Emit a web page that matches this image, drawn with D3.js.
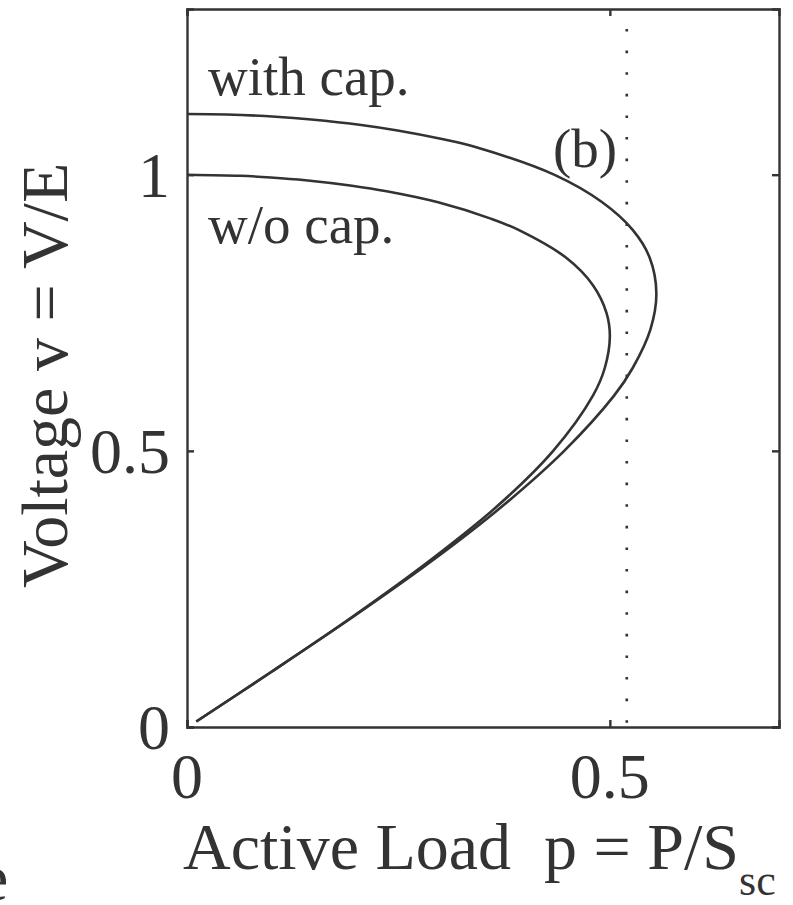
<!DOCTYPE html>
<html lang="en">
<head>
    <title>PV curves</title>
    <script src="https://d3js.org/d3.v7.min.js"></script>
    <style>
        body { margin: 0; background: #fff; }
        svg text { font-family: 'Liberation Serif', 'DejaVu Serif', serif; fill: #333; white-space: pre; }
    </style>
</head>
<body>

<script>
    // curve without capacitor: voltage v and active load p
    const vNoCap = [1.0, 0.998, 0.995, 0.99, 0.98, 0.97, 0.95, 0.92, 0.9, 0.85, 0.8, 0.75, 0.707, 0.65, 0.6, 0.5, 0.4, 0.3, 0.2, 0.1, 0.01];
    const pNoCap = [0.0, 0.063, 0.099, 0.140, 0.195, 0.236, 0.297, 0.360, 0.392, 0.448, 0.480, 0.496, 0.500, 0.494, 0.480, 0.433, 0.367, 0.286, 0.196, 0.100, 0.011];

    // curve with capacitor
    const vCap = [1.11, 1.109, 1.105, 1.10, 1.09, 1.08, 1.065, 1.05, 1.0, 0.95, 0.9, 0.85, 0.785, 0.72, 0.65, 0.6, 0.5, 0.4, 0.3, 0.2, 0.1, 0.01];
    const pCap = [0.0, 0.047, 0.105, 0.147, 0.206, 0.249, 0.300, 0.341, 0.434, 0.491, 0.527, 0.547, 0.555, 0.548, 0.527, 0.505, 0.446, 0.373, 0.289, 0.197, 0.100, 0.011];

    const xTicks = [0, 0.5];
    const yTicks = [0, 0.5, 1];
    const pLimit = 0.52;

    const width = 793, height = 905;
    const margin = {top: 9, right: 14, bottom: 178, left: 187};
    const serif = "'Liberation Serif', 'DejaVu Serif', serif";

    const svg = d3.select("body").append("svg")
            .attr("width", width)
            .attr("height", height);

    const x = d3.scaleLinear().domain([0, 0.7]).range([margin.left, width - margin.right]);
    const y = d3.scaleLinear().domain([0, 1.3]).range([height - margin.bottom, margin.top]);

    const ink = "#333";

    // dotted limit line
    svg.append("line")
            .attr("x1", x(pLimit)).attr("x2", x(pLimit))
            .attr("y1", y(1.3) + 20).attr("y2", y(0))
            .attr("stroke", ink)
            .attr("stroke-width", 2.6)
            .attr("stroke-dasharray", "2.6,19");

    const line = d3.line()
            .x(d => x(d[0]))
            .y(d => y(d[1]))
            .curve(d3.curveCatmullRom);

    svg.append("path")
            .datum(d3.zip(pNoCap, vNoCap))
            .attr("d", line)
            .attr("fill", "none")
            .attr("stroke", ink)
            .attr("stroke-width", 2.6);

    svg.append("path")
            .datum(d3.zip(pCap, vCap))
            .attr("d", line)
            .attr("fill", "none")
            .attr("stroke", ink)
            .attr("stroke-width", 2.6);

    // axes with inward ticks, mirrored on top and right
    const tl = 7;
    const bottomAxis = svg.append("g")
            .attr("transform", `translate(0,${y(0)})`)
            .call(d3.axisBottom(x).tickValues(xTicks).tickSize(-tl).tickFormat(""));
    const topAxis = svg.append("g")
            .attr("transform", `translate(0,${y(1.3)})`)
            .call(d3.axisTop(x).tickValues(xTicks).tickSize(-tl).tickFormat(""));
    const leftAxis = svg.append("g")
            .attr("transform", `translate(${x(0)},0)`)
            .call(d3.axisLeft(y).tickValues(yTicks).tickSize(-tl).tickFormat(""));
    const rightAxis = svg.append("g")
            .attr("transform", `translate(${x(0.7)},0)`)
            .call(d3.axisRight(y).tickValues(yTicks).tickSize(-tl).tickFormat(""));

    [bottomAxis, topAxis, leftAxis, rightAxis].forEach(g => {
        g.selectAll(".domain").attr("stroke", ink).attr("stroke-width", 2.4);
        g.selectAll(".tick line").attr("stroke", ink).attr("stroke-width", 2.4);
        g.attr("font-family", null);
    });

    // tick labels
    svg.selectAll(".xlab")
            .data(xTicks).enter()
            .append("text")
            .attr("font-family", serif)
            .attr("x", d => x(d))
            .attr("y", 798)
            .attr("text-anchor", "middle")
            .attr("font-size", 64)
            .text(d => d === 0 ? "0" : d);

    svg.selectAll(".ylab")
            .data(yTicks).enter()
            .append("text")
            .attr("font-family", serif)
            .attr("x", 170)
            .attr("y", d => y(d) + 22)
            .attr("text-anchor", "end")
            .attr("font-size", 64)
            .text(d => d === 0 ? "0" : d);

    // axis titles
    const xt = svg.append("text")
            .attr("font-family", serif)
            .attr("x", 183)
            .attr("y", 869)
            .attr("font-size", 66);
    xt.append("tspan").text("Active Load  p = P/S");
    xt.append("tspan").attr("dy", 26).attr("font-size", 44).text("sc");

    svg.append("text")
            .attr("font-family", serif)
            .attr("transform", "translate(67,588) rotate(-90)")
            .attr("font-size", 66)
            .text("Voltage v = V/E");

    // annotations
    svg.append("text").attr("font-family", serif).attr("x", 208).attr("y", 95).attr("font-size", 55).text("with cap.");
    svg.append("text").attr("font-family", serif).attr("x", 208).attr("y", 243).attr("font-size", 55).text("w/o cap.");
    svg.append("text").attr("font-family", serif).attr("x", 553).attr("y", 167).attr("font-size", 55).text("(b)");

    // fragment of a neighbouring panel's label, cut by the left edge
    svg.append("text").attr("font-family", serif).attr("x", -21).attr("y", 900).attr("font-size", 66).text("e");
</script>

</body>
</html>
